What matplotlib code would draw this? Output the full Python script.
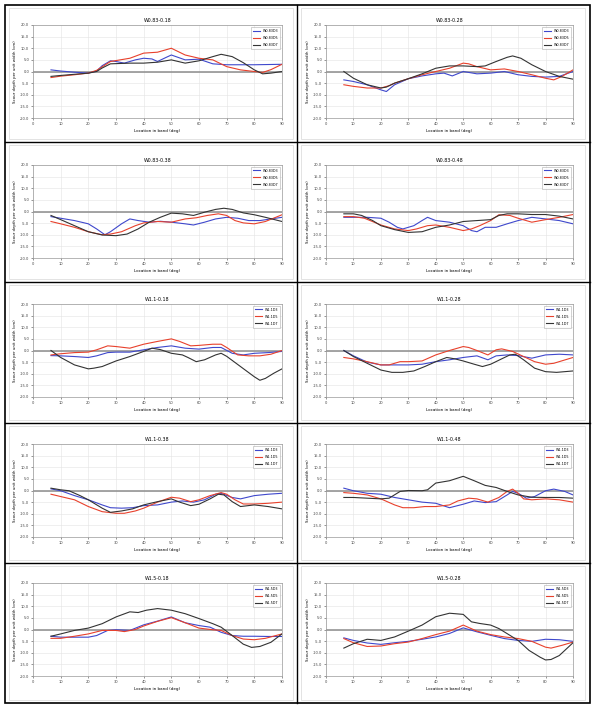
import matplotlib
matplotlib.use('Agg')
import matplotlib.pyplot as plt
from matplotlib.lines import Line2D
from matplotlib.patches import Rectangle

titles = ['W0.83-0.18', 'W0.83-0.28', 'W0.83-0.38', 'W0.83-0.48',
          'W1.1-0.18', 'W1.1-0.28', 'W1.1-0.38', 'W1.1-0.48',
          'W1.5-0.18', 'W1.5-0.28']
legend_names = [['W0.83D3', 'W0.83D5', 'W0.83D7']] * 4 + \
               [['W1.1D3', 'W1.1D5', 'W1.1D7']] * 4 + \
               [['W1.5D3', 'W1.5D5', 'W1.5D7']] * 2

# (location deg, scour depth cm)
p1_d3 = [(6.5, 0.7), (10, 0.2), (15, -0.3), (20, -0.7), (23, 0.2), (25, 2.5), (28, 4.6), (30, 4.3), (33, 3.6),
         (37, 5.0), (40, 5.7), (43, 5.4), (45, 4.3), (48, 6.0), (50, 7.1), (55, 5.0), (60, 5.3), (65, 3.3),
         (70, 2.9), (80, 2.9), (90, 3.1)]
p1_d5 = [(6.5, -2.6), (10, -2.0), (15, -1.4), (20, -0.7), (23, 0.5), (25, 2.0), (28, 4.3), (35, 5.7),
         (40, 7.9), (45, 8.3), (50, 10.0), (55, 7.1), (60, 5.7), (65, 5.0), (70, 2.1), (75, 0.7), (80, 0.0),
         (83, -0.4), (86, 0.8), (90, 3.1)]
p1_d7 = [(6.5, -2.1), (10, -1.7), (15, -1.2), (20, -0.7), (23, 0.0), (25, 1.5), (28, 3.3), (35, 3.6),
         (40, 3.6), (45, 4.0), (50, 5.0), (55, 3.6), (60, 4.6), (65, 6.4), (68, 7.4), (72, 6.4), (76, 3.8),
         (80, 0.7), (83, -1.0), (86, -0.7), (90, 0.0)]

p2_d3 = [(6.5, -3.6), (10, -4.3), (15, -5.7), (20, -7.9), (22, -8.6), (25, -5.7), (30, -3.1), (35, -1.9),
         (40, -1.0), (43, -0.7), (46, -1.9), (50, 0.0), (55, -1.0), (60, -0.7), (65, 0.0), (70, -1.4),
         (75, -2.1), (80, -2.4), (85, -2.1), (90, 0.0)]
p2_d5 = [(6.5, -5.7), (10, -6.4), (15, -7.1), (20, -7.1), (23, -6.1), (25, -5.0), (30, -3.1), (35, -1.4),
         (40, 0.0), (45, 1.4), (50, 3.6), (52, 3.3), (55, 2.1), (60, 0.7), (65, 1.1), (70, 0.0), (75, -1.4),
         (80, -2.9), (83, -3.6), (86, -2.1), (90, 0.7)]
p2_d7 = [(6.5, 0.0), (10, -2.9), (15, -5.7), (20, -7.1), (22, -6.7), (25, -5.0), (30, -3.1), (35, -1.0),
         (40, 1.4), (45, 2.4), (50, 2.4), (55, 2.1), (58, 2.4), (62, 4.3), (66, 6.1), (68, 6.7), (71, 5.7),
         (75, 2.9), (80, 0.0), (85, -2.1), (90, -3.3)]

p3_d3 = [(6.5, -2.2), (10, -2.9), (15, -3.9), (20, -5.3), (23, -7.5), (26, -10.0), (28, -8.7), (32, -5.3),
         (35, -3.2), (38, -3.9), (42, -4.6), (46, -4.2), (50, -4.6), (55, -5.3), (58, -5.8), (62, -4.6),
         (66, -3.2), (70, -2.5), (74, -2.9), (78, -3.9), (82, -3.9), (86, -3.2), (90, -2.5)]
p3_d5 = [(6.5, -4.3), (10, -5.3), (15, -6.8), (20, -8.7), (25, -10.0), (28, -9.7), (32, -8.7), (37, -6.1),
         (40, -4.9), (45, -4.3), (50, -4.6), (55, -3.2), (59, -2.7), (63, -1.7), (67, -1.0), (70, -1.7),
         (73, -3.9), (76, -4.9), (80, -5.3), (84, -4.3), (90, -1.4)]
p3_d7 = [(6.5, -1.7), (10, -3.5), (15, -6.1), (20, -8.7), (25, -10.1), (30, -10.4), (34, -9.7), (38, -7.5),
         (42, -4.6), (46, -2.5), (50, -0.7), (54, -1.0), (58, -1.7), (62, -0.3), (66, 0.9), (69, 1.4),
         (72, 0.9), (76, -0.6), (80, -1.4), (84, -2.5), (90, -4.3)]

p4_d3 = [(6.5, -2.5), (10, -2.5), (15, -2.5), (20, -2.9), (23, -4.6), (26, -6.8), (28, -7.5), (32, -6.1),
         (35, -3.9), (37, -2.5), (40, -3.9), (45, -4.6), (50, -6.1), (53, -8.2), (55, -8.7), (58, -6.8),
         (62, -6.8), (66, -5.3), (70, -3.9), (75, -2.5), (80, -3.2), (85, -3.9), (90, -5.3)]
p4_d5 = [(6.5, -2.2), (10, -2.2), (14, -2.9), (20, -5.8), (25, -7.5), (30, -8.2), (33, -7.5), (37, -6.1),
         (40, -5.8), (45, -6.8), (50, -8.2), (53, -7.5), (56, -6.1), (60, -3.9), (63, -1.4), (67, -1.7),
         (70, -2.9), (75, -4.6), (80, -3.5), (85, -2.5), (90, -1.3)]
p4_d7 = [(6.5, -1.0), (10, -1.0), (13, -1.7), (17, -3.9), (20, -6.1), (25, -7.8), (30, -9.0), (35, -8.7),
         (40, -6.8), (45, -5.8), (50, -4.3), (55, -3.9), (60, -3.5), (63, -1.7), (66, -1.0), (70, -1.0),
         (75, -1.3), (80, -1.3), (85, -2.0), (90, -3.2)]

p5_d3 = [(6.5, -2.2), (10, -2.3), (15, -2.6), (20, -3.0), (23, -2.3), (27, -0.9), (30, -0.7), (35, -0.7),
         (40, 0.3), (45, 1.3), (50, 2.0), (55, 1.0), (60, 0.6), (65, 1.3), (68, 1.3), (72, -1.2), (76, -1.9),
         (80, -1.2), (85, -0.9), (90, -0.4)]
p5_d5 = [(6.5, -1.9), (10, -1.4), (15, -0.9), (20, -0.7), (23, 0.3), (27, 2.0), (30, 1.7), (35, 1.0),
         (40, 2.7), (45, 3.9), (50, 5.0), (53, 3.9), (57, 2.0), (60, 2.2), (65, 2.7), (68, 2.7), (70, 1.3),
         (74, -1.9), (78, -2.3), (82, -2.3), (86, -1.6), (90, 0.0)]
p5_d7 = [(6.5, 0.0), (10, -3.0), (15, -6.2), (20, -7.9), (22, -7.6), (25, -6.9), (30, -4.5), (35, -2.6),
         (40, -0.4), (43, 1.0), (46, 0.4), (50, -1.2), (54, -1.9), (56, -3.0), (59, -4.8), (62, -4.0),
         (66, -1.9), (68, -1.2), (70, -2.5), (75, -6.9), (80, -11.3), (82, -12.8), (84, -12.0), (87, -9.8),
         (90, -7.9)]

p6_d3 = [(6.5, 0.0), (10, -2.3), (15, -5.0), (20, -6.2), (25, -6.2), (30, -6.2), (35, -5.9), (40, -4.8),
         (45, -4.0), (50, -3.0), (55, -2.3), (59, -4.0), (62, -2.3), (66, -1.9), (70, -2.2), (75, -3.3),
         (80, -1.9), (85, -1.6), (90, -1.9)]
p6_d5 = [(6.5, -3.0), (10, -3.6), (15, -4.8), (20, -6.2), (23, -6.2), (27, -4.8), (30, -4.8), (35, -4.5),
         (40, -1.9), (45, 0.0), (50, 1.7), (52, 1.3), (55, 0.0), (59, -1.9), (62, 0.3), (64, 0.7), (68, -0.4),
         (72, -2.6), (76, -4.8), (80, -5.9), (83, -5.5), (90, -3.0)]
p6_d7 = [(6.5, 0.0), (10, -2.6), (15, -5.5), (20, -8.4), (24, -9.4), (28, -9.4), (32, -8.8), (36, -6.9),
         (40, -4.8), (44, -3.0), (47, -3.6), (50, -4.5), (54, -5.9), (57, -6.9), (60, -5.9), (64, -3.6),
         (67, -1.9), (69, -1.6), (72, -4.0), (76, -7.6), (80, -9.1), (84, -9.4), (90, -8.8)]

p7_d3 = [(6.5, 0.7), (10, -0.1), (15, -2.2), (20, -4.0), (25, -6.2), (28, -7.4), (32, -7.6), (36, -7.4),
         (40, -6.5), (45, -6.2), (50, -5.0), (54, -4.5), (58, -5.0), (62, -4.0), (66, -1.6), (68, -1.2),
         (72, -3.0), (75, -3.6), (80, -2.2), (85, -1.6), (90, -1.2)]
p7_d5 = [(6.5, -1.6), (10, -2.6), (15, -4.0), (20, -6.9), (25, -9.1), (30, -9.8), (33, -9.8), (37, -8.8),
         (40, -7.6), (45, -5.0), (50, -2.9), (53, -3.3), (57, -4.8), (60, -4.0), (64, -2.2), (68, -0.9),
         (70, -1.6), (73, -4.0), (76, -5.8), (80, -5.8), (85, -5.5), (90, -5.0)]
p7_d7 = [(6.5, 1.0), (10, 0.3), (13, -0.1), (17, -2.2), (20, -4.0), (25, -7.6), (28, -9.4), (32, -8.8),
         (36, -7.9), (40, -6.2), (45, -4.8), (50, -3.6), (53, -5.0), (57, -6.5), (60, -5.9), (64, -3.6),
         (67, -1.6), (69, -1.9), (72, -4.8), (75, -6.9), (80, -6.2), (85, -6.9), (90, -7.9)]

p8_d3 = [(6.5, 1.0), (10, -0.1), (15, -1.2), (20, -1.6), (25, -3.0), (30, -4.0), (35, -5.0), (40, -5.5),
         (45, -7.4), (50, -5.9), (54, -4.5), (58, -5.2), (62, -4.8), (66, -1.9), (68, -0.4), (70, -1.2),
         (73, -3.3), (76, -2.6), (80, -0.1), (83, 0.6), (87, -0.4), (90, -1.9)]
p8_d5 = [(6.5, -0.9), (10, -1.2), (15, -1.9), (20, -3.6), (25, -6.2), (28, -7.4), (32, -7.4), (36, -6.9),
         (40, -6.9), (45, -6.2), (48, -4.5), (52, -3.3), (55, -3.6), (59, -5.0), (63, -3.0), (66, -0.4),
         (68, 0.6), (70, -1.2), (72, -3.6), (75, -4.0), (80, -3.6), (85, -4.0), (90, -5.0)]
p8_d7 = [(6.5, -3.0), (10, -3.0), (15, -3.3), (20, -3.6), (23, -3.3), (27, -0.4), (30, 0.0), (35, -0.1),
         (37, 0.3), (40, 3.2), (45, 4.2), (50, 6.1), (54, 4.2), (58, 2.2), (62, 1.3), (66, -0.4), (70, -1.9),
         (75, -2.9), (80, -3.0), (85, -3.0), (90, -3.3)]

p9_d3 = [(6.5, -2.9), (10, -3.3), (15, -3.3), (20, -3.3), (23, -2.6), (27, -0.4), (30, -0.1), (35, -0.4),
         (40, 2.0), (45, 3.6), (50, 5.4), (55, 2.9), (60, 1.7), (64, 1.0), (68, -1.2), (72, -2.6), (76, -2.9),
         (80, -2.9), (85, -3.0), (90, -3.0)]
p9_d5 = [(6.5, -3.8), (10, -3.8), (15, -2.9), (20, -1.9), (25, -0.4), (30, -0.4), (33, -0.9), (37, 0.0),
         (40, 1.5), (45, 3.5), (50, 5.1), (55, 2.9), (60, 0.6), (65, -0.1), (68, -0.4), (72, -2.6), (76, -4.1),
         (80, -4.4), (84, -3.8), (90, -1.9)]
p9_d7 = [(6.5, -2.9), (10, -1.9), (15, -0.4), (20, 0.6), (25, 2.5), (30, 5.4), (35, 7.6), (38, 7.3),
         (41, 8.3), (45, 9.0), (50, 8.3), (55, 6.8), (60, 4.7), (65, 2.5), (68, 1.0), (72, -2.6), (76, -6.3),
         (79, -7.7), (82, -7.3), (86, -5.5), (90, -1.9)]

p10_d3 = [(6.5, -3.6), (10, -4.7), (15, -5.8), (20, -6.4), (25, -5.7), (30, -5.1), (35, -4.2), (40, -3.2),
          (45, -1.7), (50, 0.7), (55, -1.0), (60, -2.5), (65, -3.9), (70, -4.7), (75, -5.1), (80, -4.2),
          (85, -4.4), (90, -5.1)]
p10_d5 = [(6.5, -3.9), (10, -5.7), (15, -7.3), (20, -7.1), (25, -6.1), (30, -5.4), (35, -3.9), (40, -2.2),
          (45, -0.7), (50, 1.9), (55, -0.7), (60, -2.2), (65, -3.2), (70, -3.9), (75, -5.1), (80, -7.6),
          (82, -8.0), (86, -6.8), (90, -5.4)]
p10_d7 = [(6.5, -8.0), (10, -6.1), (15, -4.2), (20, -4.7), (25, -3.2), (30, -0.7), (35, 1.9), (40, 5.5),
          (45, 7.0), (50, 6.5), (53, 3.3), (56, 2.6), (60, 1.9), (63, 0.4), (67, -2.5), (70, -4.7), (74, -9.0),
          (78, -11.9), (80, -13.1), (82, -12.9), (85, -11.2), (90, -5.7)]

panels = [(p1_d3, p1_d5, p1_d7), (p2_d3, p2_d5, p2_d7), (p3_d3, p3_d5, p3_d7), (p4_d3, p4_d5, p4_d7),
          (p5_d3, p5_d5, p5_d7), (p6_d3, p6_d5, p6_d7), (p7_d3, p7_d5, p7_d7), (p8_d3, p8_d5, p8_d7),
          (p9_d3, p9_d5, p9_d7), (p10_d3, p10_d5, p10_d7)]
colors = ['#3f48cc', '#e8412c', '#333333']

W, H = 600, 711
fig = plt.figure(figsize=(W / 100, H / 100), dpi=100)

# table borders
row_lines = [5, 142, 282, 423, 563, 703]
fig.add_artist(Rectangle((5 / W, 1 - 703 / H), 585 / W, 698 / H, transform=fig.transFigure,
                         fill=False, ec='black', lw=1.2))
fig.add_artist(Line2D([297 / W, 297 / W], [1 - 5 / H, 1 - 703 / H], transform=fig.transFigure,
                      color='black', lw=1.0))
for yl in row_lines[1:-1]:
    fig.add_artist(Line2D([5 / W, 590 / W], [1 - yl / H, 1 - yl / H], transform=fig.transFigure,
                          color='black', lw=1.0))

row_tops = [25, 165, 304, 444, 583]
col_x = [(33, 282), (326, 573)]
plot_h = 93

for i, series in enumerate(panels):
    r, c = i // 2, i % 2
    x0, x1 = col_x[c]
    y0 = row_tops[r]
    ax = fig.add_axes([x0 / W, 1 - (y0 + plot_h) / H, (x1 - x0) / W, plot_h / H])
    # faint chart-area frame
    cx0 = 9 if c == 0 else 301
    fig.add_artist(Rectangle((cx0 / W, 1 - (row_lines[r + 1] - 3) / H), 284 / W,
                             (row_lines[r + 1] - row_lines[r] - 6) / H, transform=fig.transFigure,
                             fill=False, ec='#d8d8d8', lw=0.5))
    for s, col, name in zip(series, colors, legend_names[i]):
        xs = [p[0] for p in s]
        ys = [p[1] for p in s]
        ax.plot(xs, ys, color=col, lw=0.8, label=name)
    ax.axhline(0, color='#8c8c8c', lw=1.1, zorder=1)
    ax.set_xlim(0, 90)
    ax.set_ylim(-20, 20)
    ax.set_xticks(range(0, 91, 10))
    ax.set_yticks(range(-20, 21, 5))
    ax.set_yticklabels(['%.1f' % v for v in range(-20, 21, 5)])
    ax.grid(True, color='#e3e3e3', lw=0.4)
    ax.set_axisbelow(True)
    ax.tick_params(labelsize=2.6, length=1.2, width=0.4, pad=1.5, colors='#444444')
    for sp in ax.spines.values():
        sp.set_color('#999999')
        sp.set_linewidth(0.5)
    ax.set_title(titles[i], fontsize=3.4, pad=2.5)
    ax.set_xlabel('Location in band (deg)', fontsize=3.0, labelpad=2)
    ax.set_ylabel('Scour depth per unit width (cm)', fontsize=2.8, labelpad=2)
    leg = ax.legend(loc='upper right', fontsize=2.4, handlelength=2.2, frameon=True, fancybox=False,
                    edgecolor='#999999', borderpad=0.6, labelspacing=0.9, borderaxespad=0.5)
    leg.get_frame().set_linewidth(0.4)

fig.savefig('out.png', dpi=100, facecolor='white')
